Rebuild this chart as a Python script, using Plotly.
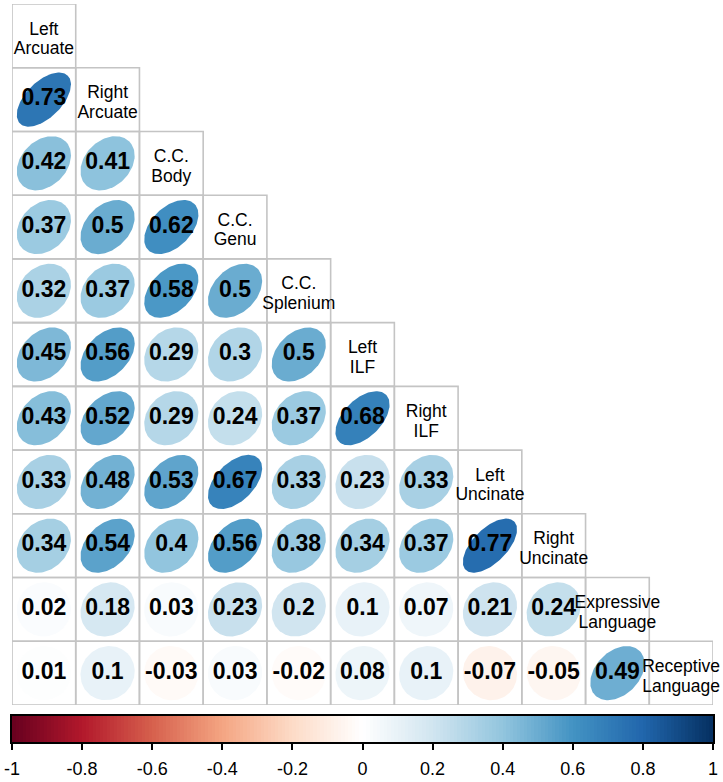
import numpy as np
import plotly.graph_objects as go
from plotly.colors import sample_colorscale

# Variable names (shown on the diagonal), two lines each
names_top = ["Left", "Right", "C.C.", "C.C.", "C.C.", "Left", "Right",
             "Left", "Right", "Expressive", "Receptive"]
names_bottom = ["Arcuate", "Arcuate", "Body", "Genu", "Splenium", "ILF", "ILF",
                "Uncinate", "Uncinate", "Language", "Language"]

# Lower-triangle correlations: each row holds r with the variables before it
r_right_arcuate = [0.73]
r_cc_body = [0.42, 0.41]
r_cc_genu = [0.37, 0.5, 0.62]
r_cc_splenium = [0.32, 0.37, 0.58, 0.5]
r_left_ilf = [0.45, 0.56, 0.29, 0.3, 0.5]
r_right_ilf = [0.43, 0.52, 0.29, 0.24, 0.37, 0.68]
r_left_uncinate = [0.33, 0.48, 0.53, 0.67, 0.33, 0.23, 0.33]
r_right_uncinate = [0.34, 0.54, 0.4, 0.56, 0.38, 0.34, 0.37, 0.77]
r_expressive = [0.02, 0.18, 0.03, 0.23, 0.2, 0.1, 0.07, 0.21, 0.24]
r_receptive = [0.01, 0.1, -0.03, 0.03, -0.02, 0.08, 0.1, -0.07, -0.05, 0.49]

rows = [[], r_right_arcuate, r_cc_body, r_cc_genu, r_cc_splenium, r_left_ilf,
        r_right_ilf, r_left_uncinate, r_right_uncinate, r_expressive, r_receptive]

# Colour bar ticks
cbar_ticks = [-1, -0.8, -0.6, -0.4, -0.2, 0, 0.2, 0.4, 0.6, 0.8, 1]

# Diverging red-white-blue palette, -1 .. 1
palette = ["#67001F", "#B2182B", "#D6604D", "#F4A582", "#FDDBC7", "#FFFFFF",
           "#D1E5F0", "#92C5DE", "#4393C3", "#2166AC", "#053061"]
colorscale = [[i / (len(palette) - 1), c] for i, c in enumerate(palette)]

W, H = 723, 782
n = len(names_top)
FONT = "Liberation Sans, Arial, sans-serif"

# pixel frame of the matrix and of the colour bar
gx0, gx1, gy0, gy1 = 12, 713, 4, 705
cy0, cy1 = 716, 742


def fmt(v):
    return f"{v:.2f}".rstrip("0").rstrip(".")


def ellipse(rho, cx, cy, size=0.85, m=120):
    """Ellipse tilted at 45 deg; axis ratio shrinks as |rho| grows."""
    ratio = ((1 - abs(rho)) / (1 + abs(rho))) ** 0.34
    phi = np.arctan(ratio)
    s = size / np.sqrt(2)
    A, B = s * np.cos(phi), s * np.sin(phi)
    k = np.linspace(0, 2 * np.pi, m)
    u, v = A * np.cos(k), B * np.sin(k)
    sgn = 1 if rho >= 0 else -1
    ex = (u - v) / np.sqrt(2)
    ey = sgn * (u + v) / np.sqrt(2)
    return cx + ex, cy - ey


fig = go.Figure()
shapes = []

# cell borders for the lower triangle incl. diagonal
for i in range(n):
    for j in range(i + 1):
        shapes.append(dict(type="rect", xref="x", yref="y",
                           x0=j - 0.5, x1=j + 0.5, y0=i - 0.5, y1=i + 0.5,
                           line=dict(color="#C4C4C4", width=1.6),
                           fillcolor="rgba(0,0,0,0)", layer="below"))

# ellipses
tx, ty, tt = [], [], []
for i, row in enumerate(rows):
    for j, r in enumerate(row):
        col = sample_colorscale(colorscale, [(r + 1) / 2])[0]
        ex, ey = ellipse(r, j, i)
        fig.add_trace(go.Scatter(x=ex, y=ey, mode="lines", fill="toself",
                                 fillcolor=col, line=dict(width=0, color=col),
                                 hoverinfo="skip", showlegend=False,
                                 xaxis="x", yaxis="y"))
        tx.append(j)
        ty.append(i)
        tt.append(fmt(r))

# coefficient labels
fig.add_trace(go.Scatter(x=tx, y=ty, text=tt, mode="text",
                         textfont=dict(family=FONT, size=23, color="black",
                                       weight="bold"),
                         textposition="middle center",
                         hoverinfo="skip", showlegend=False,
                         xaxis="x", yaxis="y"))

# variable names on the diagonal
for names, dy in ((names_top, -0.09), (names_bottom, 0.22)):
    fig.add_trace(go.Scatter(x=list(range(n)), y=[i + dy for i in range(n)],
                             text=names, mode="text", cliponaxis=False,
                             textfont=dict(family=FONT, size=17.5, color="black"),
                             textposition="middle center",
                             hoverinfo="skip", showlegend=False,
                             xaxis="x", yaxis="y"))

# colour bar as a strip heatmap
nb = 200
edges = np.linspace(-1, 1, nb + 1)
centers = (edges[:-1] + edges[1:]) / 2
fig.add_trace(go.Heatmap(x=centers, y=[0], z=[centers], zmin=-1, zmax=1,
                         colorscale=colorscale, showscale=False,
                         hoverinfo="skip", xaxis="x2", yaxis="y2"))

fig.update_layout(
    width=W, height=H, autosize=False,
    margin=dict(l=0, r=0, t=0, b=0, pad=0, autoexpand=False),
    paper_bgcolor="white", plot_bgcolor="white",
    shapes=shapes,
    xaxis=dict(domain=[gx0 / W, gx1 / W], range=[-0.5, n - 0.5],
               visible=False, fixedrange=True, automargin=False),
    yaxis=dict(domain=[1 - gy1 / H, 1 - gy0 / H], range=[n - 0.5, -0.5],
               visible=False, fixedrange=True, automargin=False),
    xaxis2=dict(domain=[gx0 / W, gx1 / W], range=[-1, 1], anchor="y2",
                showline=True, mirror=True, linecolor="black", linewidth=1.5,
                showgrid=False, zeroline=False, automargin=False,
                ticks="outside", ticklen=6, tickwidth=1.5, tickcolor="black",
                tickvals=cbar_ticks, ticktext=[fmt(v) for v in cbar_ticks],
                tickfont=dict(family=FONT, size=18, color="black"),
                ticklabelstandoff=4, fixedrange=True),
    yaxis2=dict(domain=[1 - cy1 / H, 1 - cy0 / H], range=[-0.5, 0.5],
                anchor="x2", showline=True, mirror=True, linecolor="black",
                linewidth=1.5, showgrid=False, zeroline=False, automargin=False,
                showticklabels=False, ticks="", fixedrange=True),
)

fig.write_html("out.html")
